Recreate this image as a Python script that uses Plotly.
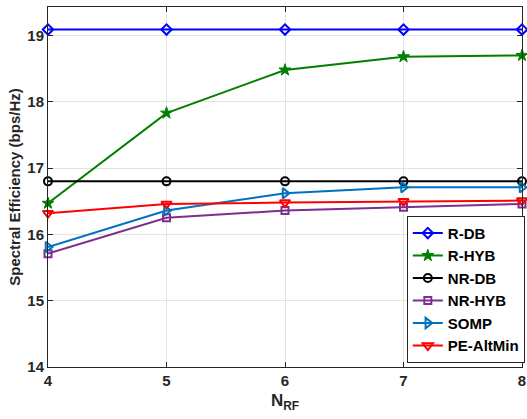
import plotly.graph_objects as go

n_rf = [4, 5, 6, 7, 8]
r_db = [19.09, 19.09, 19.09, 19.09, 19.09]
r_hyb = [16.47, 17.83, 18.48, 18.68, 18.70]
nr_db = [16.80, 16.80, 16.80, 16.80, 16.80]
nr_hyb = [15.71, 16.25, 16.36, 16.41, 16.46]
somp = [15.81, 16.36, 16.62, 16.71, 16.71]
pe_altmin = [16.32, 16.46, 16.48, 16.50, 16.51]

series = [
    ("R-DB", r_db, "#0000FF", "diamond-open", 8),
    ("R-HYB", r_hyb, "#008000", "star", 9),
    ("NR-DB", nr_db, "#000000", "circle-open", 8),
    ("NR-HYB", nr_hyb, "#7E2F8E", "square-open", 7),
    ("SOMP", somp, "#0072BD", "triangle-right-open", 9),
    ("PE-AltMin", pe_altmin, "#FF0000", "triangle-down-open", 9),
]

fig = go.Figure()
for name, ys, color, sym, sz in series:
    fig.add_trace(go.Scatter(
        x=n_rf, y=ys, name="<b>%s</b>" % name, mode="lines+markers",
        line=dict(color=color, width=2),
        marker=dict(symbol=sym, size=sz, color=color,
                    line=dict(color=color, width=1 if sym == "star" else 2)),
        cliponaxis=False,
    ))

axis_font = dict(family="Liberation Sans, Arial", size=15, color="#262626")
fig.update_layout(
    width=527, height=419,
    margin=dict(l=48, r=2, t=7, b=52),
    paper_bgcolor="white", plot_bgcolor="white",
    font=dict(family="Liberation Sans, Arial", size=14, color="#262626"),
    showlegend=True,
    legend=dict(
        x=0.757, y=0.42, xanchor="left", yanchor="top",
        bgcolor="white", bordercolor="#262626", borderwidth=1,
        font=dict(family="Liberation Sans, Arial", size=15, color="black"),
        itemwidth=30, tracegroupgap=0,
    ),
    xaxis=dict(
        range=[4, 8], tickvals=n_rf, ticktext=["<b>%d</b>" % v for v in n_rf],
        showgrid=True, gridcolor="#E3E3E3", gridwidth=1,
        showline=True, linecolor="#262626", linewidth=1, mirror="ticks",
        ticks="inside", ticklen=5, tickcolor="#262626",
        tickfont=axis_font, zeroline=False, automargin=False,
        title=dict(text="<b>N<sub>RF</sub></b>", font=dict(size=17, color="#262626"), standoff=6),
    ),
    yaxis=dict(
        range=[14, 19.43], tickvals=[14, 15, 16, 17, 18, 19],
        ticktext=["<b>%d</b>" % v for v in [14, 15, 16, 17, 18, 19]],
        showgrid=True, gridcolor="#E3E3E3", gridwidth=1,
        showline=True, linecolor="#262626", linewidth=1, mirror="ticks",
        ticks="inside", ticklen=5, tickcolor="#262626",
        tickfont=axis_font, zeroline=False, automargin=False,
        title=dict(text="<b>Spectral Efficiency (bps/Hz)</b>", font=dict(size=15, color="#262626"), standoff=3),
    ),
)

fig.write_html("out.html", config={"displayModeBar": False},
               post_script="document.body.style.margin='0';document.body.style.overflow='hidden';")
